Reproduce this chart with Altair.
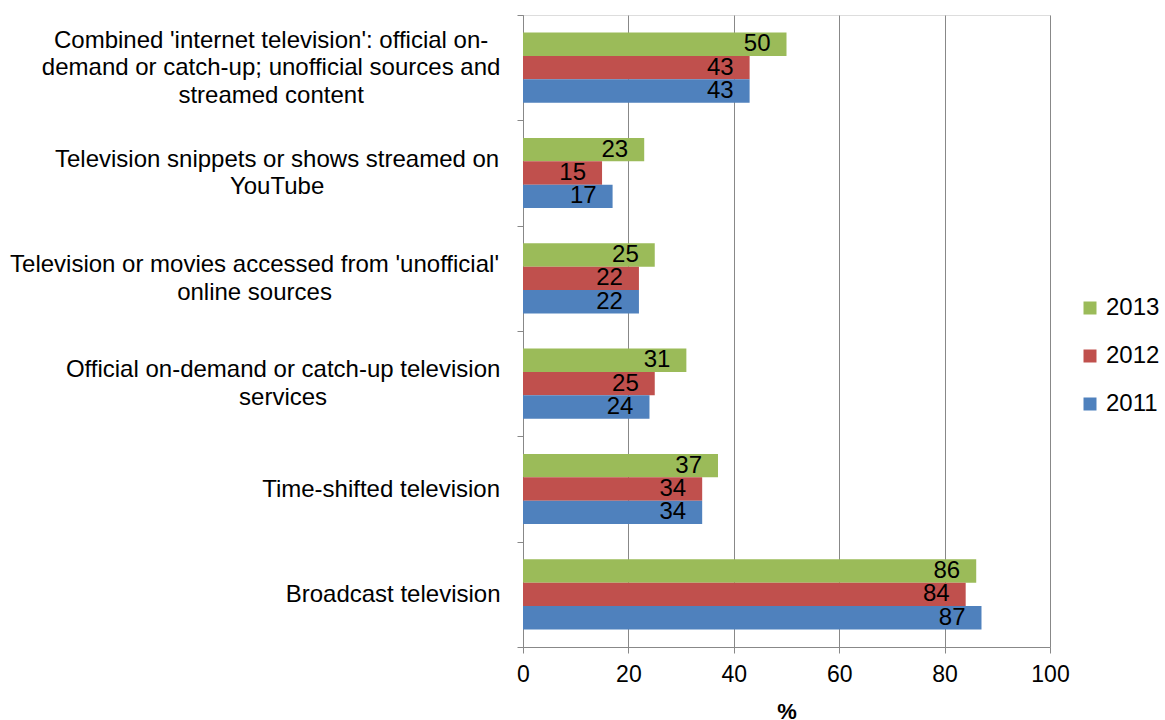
import json
import altair as alt
import pandas as pd

# ---- data ----
category_lines = [
    ["Combined 'internet television': official on-", "demand or catch-up; unofficial sources and", "streamed content"],
    ["Television snippets or shows streamed on", "YouTube"],
    ["Television or movies accessed from 'unofficial'", "online sources"],
    ["Official on-demand or catch-up television", "services"],
    ["Time-shifted television"],
    ["Broadcast television"],
]
years = ["2013", "2012", "2011"]
v2013 = [50, 23, 25, 31, 37, 86]
v2012 = [43, 15, 22, 25, 34, 84]
v2011 = [43, 17, 22, 24, 34, 87]
x_ticks = [0, 20, 40, 60, 80, 100]

colors = ["#9BBB59", "#C0504D", "#4F81BD"]
FONT = "Liberation Sans"
LABEL_FS = 24
LINE_H = 27.5

# Arial-metric widths (per em), used only to centre wrapped label lines
W = {" ": .278, "'": .191, ":": .278, ";": .278, "-": .333, "a": .556, "b": .556, "c": .5,
     "d": .556, "e": .556, "f": .278, "g": .556, "h": .556, "i": .222, "j": .222, "k": .5,
     "l": .222, "m": .833, "n": .556, "o": .556, "p": .556, "q": .556, "r": .333, "s": .5,
     "t": .278, "u": .556, "v": .5, "w": .722, "x": .5, "y": .5, "z": .5, "C": .722,
     "T": .611, "Y": .667, "O": .778, "B": .667}


def width(s):
    return sum(W.get(ch, .556) for ch in s)


labels = ["|".join(c) for c in category_lines]
pads = [round(17 + max(width(l) for l in c) * LABEL_FS / 2, 1) for c in category_lines]

rows = []
for i, lab in enumerate(labels):
    for y, vals in zip(years, [v2013, v2012, v2011]):
        rows.append({"label": lab, "year": y, "value": vals[i]})
df = pd.DataFrame(rows)

pad_expr = json.dumps(pads) + "[indexof(" + json.dumps(labels) + ", datum.value)]"
off_expr = "-(length(split(datum.value, '|')) - 1) * " + str(LINE_H / 2)

base = alt.Chart(df).encode(
    y=alt.Y(
        "label:N",
        sort=labels,
        scale=alt.Scale(paddingInner=0, paddingOuter=0),
        axis=alt.Axis(
            title=None,
            labelExpr="split(datum.label, '|')",
            labelFont=FONT,
            labelFontSize=LABEL_FS,
            labelLineHeight=LINE_H,
            labelColor="black",
            labelAlign="center",
            labelBaseline="middle",
            labelPadding=alt.ExprRef(expr=pad_expr),
            labelOffset=alt.ExprRef(expr=off_expr),
            labelLimit=0,
            tickBand="extent",
            tickSize=6,
            tickColor="#888888",
            domainColor="#888888",
            grid=False,
        ),
    ),
    yOffset=alt.YOffset("year:N", sort=years, scale=alt.Scale(paddingInner=0, paddingOuter=0.75)),
    x=alt.X(
        "value:Q",
        scale=alt.Scale(domain=[0, 100], nice=False),
        axis=alt.Axis(
            values=x_ticks,
            title="%",
            titleFont=FONT,
            titleFontSize=22,
            titleFontWeight="bold",
            titleColor="black",
            titlePadding=15,
            labelFont=FONT,
            labelFontSize=23,
            labelColor="black",
            labelPadding=10,
            labelFlush=False,
            tickSize=6,
            tickColor="#888888",
            domainColor="#888888",
            grid=True,
            gridColor="#888888",
        ),
    ),
)

bars = base.mark_bar().encode(
    color=alt.Color(
        "year:N",
        scale=alt.Scale(domain=years, range=colors),
        legend=alt.Legend(
            title=None,
            orient="none",
            legendX=555,
            legendY=281,
            symbolType="square",
            symbolSize=169,
            symbolStrokeWidth=0,
            labelFont=FONT,
            labelFontSize=24,
            labelColor="black",
            rowPadding=24,
            labelOffset=4,
        ),
    )
)

text = base.mark_text(
    align="right", baseline="middle", dx=-16, fontSize=24, font=FONT, color="black"
).encode(text="value:Q")

chart = (
    alt.layer(bars, text)
    .properties(
        width=527,
        height=632,
        autosize=alt.AutoSizeParams(type="none"),
        padding={"left": 523, "top": 15, "right": 115, "bottom": 73},
    )
    .configure_view(stroke=None)
    .configure(background="white")
)

chart.save("out.html", embed_options={"renderer": "svg", "actions": False})
